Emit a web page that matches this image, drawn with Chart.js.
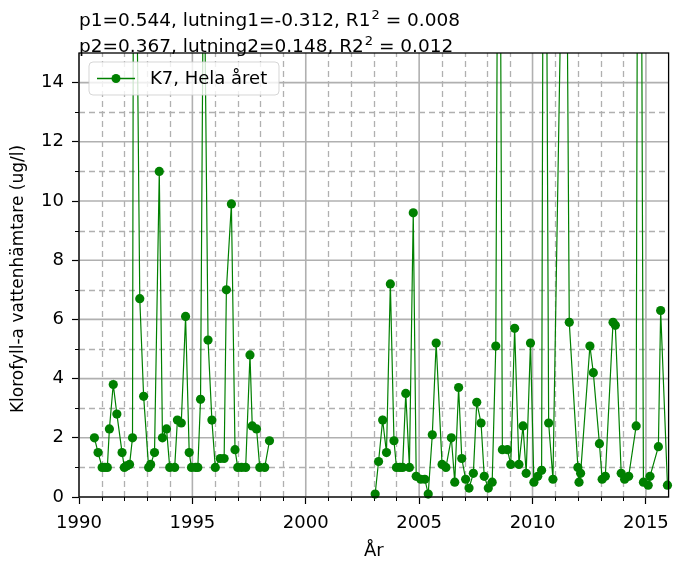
<!DOCTYPE html>
<html>
<head>
<meta charset="utf-8">
<script src="https://cdn.jsdelivr.net/npm/chart.js@4/dist/chart.umd.min.js"></script>
<style>
  html, body { margin: 0; padding: 0; background: #ffffff; }
  #c { display: block; }
</style>
</head>
<body>
<canvas id="c" width="678" height="562"></canvas>
<script>
// Klorofyll-a, station K7, hela året – two sampling periods
const period1Dates = [
  1990.68, 1990.84, 1991.02, 1991.14, 1991.25, 1991.34, 1991.51, 1991.67, 1991.90,
  1992.00, 1992.10, 1992.23, 1992.36, 1992.42, 1992.68, 1992.85,
  1993.07, 1993.16, 1993.33, 1993.54, 1993.68, 1993.86,
  1994.00, 1994.22, 1994.34, 1994.51, 1994.70, 1994.86, 1994.96,
  1995.14, 1995.24, 1995.36, 1995.50, 1995.69, 1995.86,
  1996.01, 1996.23, 1996.40, 1996.50, 1996.72, 1996.88,
  1997.00, 1997.17, 1997.35, 1997.54, 1997.64, 1997.83, 1997.97,
  1998.19, 1998.40
];
const period1Values = [
  2.0, 1.5, 1.0, 1.0, 1.0, 2.3, 3.8, 2.8, 1.5,
  1.0, 1.05, 1.1, 2.0, 28.0, 6.7, 3.4,
  1.0, 1.1, 1.5, 11.0, 2.0, 2.3,
  1.0, 1.0, 2.6, 2.5, 6.1, 1.5, 1.0,
  1.0, 1.0, 3.3, 20.0, 5.3, 2.6,
  1.0, 1.3, 1.3, 7.0, 9.9, 1.6,
  1.0, 1.0, 1.0, 4.8, 2.4, 2.3, 1.0,
  1.0, 1.9
];

const period2Dates = [
  2003.06, 2003.21, 2003.39, 2003.56, 2003.73, 2003.89,
  2004.00, 2004.15, 2004.27, 2004.41, 2004.57, 2004.74, 2004.87,
  2005.07, 2005.25, 2005.40, 2005.58, 2005.75,
  2006.01, 2006.18, 2006.42, 2006.57, 2006.74, 2006.88,
  2007.05, 2007.20, 2007.39, 2007.54, 2007.73, 2007.87,
  2008.05, 2008.22, 2008.38, 2008.52, 2008.67, 2008.89,
  2009.04, 2009.21, 2009.40, 2009.58, 2009.72, 2009.91,
  2010.06, 2010.23, 2010.40, 2010.52, 2010.71, 2010.90,
  2011.45, 2011.62,
  2012.00, 2012.05, 2012.12, 2012.53, 2012.68, 2012.95,
  2013.07, 2013.21, 2013.55, 2013.65, 2013.91,
  2014.06, 2014.24, 2014.57, 2014.70, 2014.89,
  2015.10, 2015.18, 2015.55, 2015.65, 2015.95
];
const period2Values = [
  0.1, 1.2, 2.6, 1.5, 7.2, 1.9,
  1.0, 1.0, 1.0, 3.5, 1.0, 9.6, 0.7,
  0.6, 0.6, 0.1, 2.1, 5.2,
  1.1, 1.0, 2.0, 0.5, 3.7, 1.3,
  0.6, 0.3, 0.8, 3.2, 2.5, 0.7,
  0.3, 0.5, 5.1, 30.0, 1.6, 1.6,
  1.1, 5.7, 1.1, 2.4, 0.8, 5.2,
  0.5, 0.7, 0.9, 35.0, 2.5, 0.6,
  26.0, 5.9,
  1.0, 0.5, 0.8, 5.1, 4.2, 1.8,
  0.6, 0.7, 5.9, 5.8, 0.8,
  0.6, 0.7, 2.4, 40.0, 0.5,
  0.4, 0.7, 1.7, 6.3, 0.4
];

const xMajorTicks = [1990, 1995, 2000, 2005, 2010, 2015];
const yMajorTicks = [0, 2, 4, 6, 8, 10, 12, 14];
const xRange = [1990, 2016];
const yRange = [0, 15];

const seriesLabel = 'K7, Hela året';
const xTitle = 'År';
const yTitle = 'Klorofyll-a vattenhämtare (ug/l)';
// each stats line: [text before superscript, superscript, text after]
const statsLines = [
  ['p1=0.544, lutning1=-0.312, R1', '2', ' = 0.008'],
  ['p2=0.367, lutning2=0.148, R2', '2', ' = 0.012']
];

const GREEN = '#008000';
const FONT = '"DejaVu Sans", sans-serif';
const FS = 18;        // ticks, legend, x title
const FS_TITLE = 18.5;
const FS_YTITLE = 17;

// join both periods, with a break between them so the line is not drawn across the gap
const points = [];
period1Dates.forEach((d, i) => points.push({ x: d, y: period1Values[i] }));
points.push({ x: (period1Dates[period1Dates.length - 1] + period2Dates[0]) / 2, y: null });
period2Dates.forEach((d, i) => points.push({ x: d, y: period2Values[i] }));

const decorations = {
  id: 'decorations',
  beforeDatasetsDraw(chart) {
    const { ctx, chartArea: a, scales: { x, y } } = chart;
    ctx.save();
    // minor grid (dashed) every year / every unit
    ctx.strokeStyle = '#b0b0b0';
    ctx.lineWidth = 1.3;
    ctx.setLineDash([6, 4]);
    for (let v = xRange[0] + 1; v < xRange[1]; v++) {
      if (xMajorTicks.includes(v)) continue;
      const px = Math.round(x.getPixelForValue(v)) + 0.5;
      ctx.beginPath(); ctx.moveTo(px, a.bottom); ctx.lineTo(px, a.top); ctx.stroke();
    }
    for (let v = yRange[0] + 1; v < yRange[1]; v++) {
      if (yMajorTicks.includes(v)) continue;
      const py = Math.round(y.getPixelForValue(v)) + 0.5;
      ctx.beginPath(); ctx.moveTo(a.left, py); ctx.lineTo(a.right, py); ctx.stroke();
    }
    // major grid (solid)
    ctx.setLineDash([]);
    ctx.lineWidth = 1.6;
    xMajorTicks.forEach(v => {
      const px = x.getPixelForValue(v);
      ctx.beginPath(); ctx.moveTo(px, a.bottom); ctx.lineTo(px, a.top); ctx.stroke();
    });
    yMajorTicks.forEach(v => {
      const py = y.getPixelForValue(v);
      ctx.beginPath(); ctx.moveTo(a.left, py); ctx.lineTo(a.right, py); ctx.stroke();
    });
    // minor tick marks outside the axes
    ctx.strokeStyle = '#000';
    ctx.lineWidth = 1;
    for (let v = xRange[0] + 1; v < xRange[1]; v++) {
      if (xMajorTicks.includes(v)) continue;
      const px = Math.round(x.getPixelForValue(v)) + 0.5;
      ctx.beginPath(); ctx.moveTo(px, a.bottom); ctx.lineTo(px, a.bottom + 4); ctx.stroke();
    }
    for (let v = yRange[0] + 1; v < yRange[1]; v++) {
      if (yMajorTicks.includes(v)) continue;
      const py = Math.round(y.getPixelForValue(v)) + 0.5;
      ctx.beginPath(); ctx.moveTo(a.left, py); ctx.lineTo(a.left - 4, py); ctx.stroke();
    }
    ctx.restore();
  },
  afterDatasetsDraw(chart) {
    const { ctx, chartArea: a } = chart;
    ctx.save();
    // axes frame
    ctx.strokeStyle = '#000';
    ctx.lineWidth = 1.3;
    ctx.strokeRect(a.left, a.top, a.right - a.left, a.bottom - a.top);

    // legend
    const lx = a.left + 10, ly = a.top + 9, lw = 190, lh = 33, r = 4;
    ctx.beginPath();
    ctx.moveTo(lx + r, ly);
    ctx.arcTo(lx + lw, ly, lx + lw, ly + lh, r);
    ctx.arcTo(lx + lw, ly + lh, lx, ly + lh, r);
    ctx.arcTo(lx, ly + lh, lx, ly, r);
    ctx.arcTo(lx, ly, lx + lw, ly, r);
    ctx.closePath();
    ctx.fillStyle = 'rgba(255,255,255,0.8)';
    ctx.fill();
    ctx.strokeStyle = 'rgba(204,204,204,0.8)';
    ctx.lineWidth = 1;
    ctx.stroke();
    const cy = ly + lh / 2;
    ctx.strokeStyle = GREEN;
    ctx.lineWidth = 1.3;
    ctx.beginPath(); ctx.moveTo(lx + 8, cy); ctx.lineTo(lx + 46, cy); ctx.stroke();
    ctx.fillStyle = GREEN;
    ctx.beginPath(); ctx.arc(lx + 27, cy, 4.5, 0, Math.PI * 2); ctx.fill();
    ctx.fillStyle = '#000';
    ctx.font = `${FS}px ${FONT}`;
    ctx.textAlign = 'left';
    ctx.textBaseline = 'middle';
    ctx.fillText(seriesLabel, lx + 61, cy + 1);
    ctx.restore();
  },
  afterDraw(chart) {
    const { ctx, chartArea: a } = chart;
    ctx.save();
    ctx.fillStyle = '#000';
    ctx.textBaseline = 'alphabetic';
    ctx.textAlign = 'left';
    // regression statistics above the axes
    statsLines.forEach((parts, i) => {
      const base = 26 + i * 26;
      let px = a.left;
      ctx.font = `${FS_TITLE}px ${FONT}`;
      ctx.fillText(parts[0], px, base);
      px += ctx.measureText(parts[0]).width + 1;
      ctx.font = `${Math.round(FS_TITLE * 0.7)}px ${FONT}`;
      ctx.fillText(parts[1], px, base - 7);
      px += ctx.measureText(parts[1]).width;
      ctx.font = `${FS_TITLE}px ${FONT}`;
      ctx.fillText(parts[2], px, base);
    });
    // axis titles
    ctx.font = `${FS}px ${FONT}`;
    ctx.textAlign = 'center';
    ctx.textBaseline = 'middle';
    ctx.fillText(xTitle, (a.left + a.right) / 2, 551);
    ctx.font = `${FS_YTITLE}px ${FONT}`;
    ctx.translate(19, 279);
    ctx.rotate(-Math.PI / 2);
    ctx.fillText(yTitle, 0, 0);
    ctx.restore();
  }
};

new Chart(document.getElementById('c'), {
  type: 'line',
  data: {
    datasets: [{
      label: seriesLabel,
      data: points,
      borderColor: GREEN,
      backgroundColor: GREEN,
      borderWidth: 1.2,
      pointRadius: 4.6,
      pointBorderWidth: 0,
      pointBackgroundColor: GREEN,
      pointHoverRadius: 4.6,
      spanGaps: false,
      tension: 0,
      clip: { left: 6, right: 6, top: 0, bottom: 6 }
    }]
  },
  options: {
    responsive: false,
    animation: false,
    events: [],
    devicePixelRatio: 1,
    layout: { padding: { top: 53, right: 3, left: 0, bottom: 0 } },
    plugins: {
      legend: { display: false },
      title: { display: false },
      tooltip: { enabled: false }
    },
    scales: {
      x: {
        type: 'linear',
        min: xRange[0],
        max: xRange[1],
        afterBuildTicks: s => { s.ticks = xMajorTicks.map(v => ({ value: v })); },
        afterFit: s => { s.height = 65; },
        grid: { drawOnChartArea: false, drawTicks: true, tickLength: 7, tickColor: '#000', tickWidth: 1.2 },
        border: { display: false },
        ticks: {
          callback: v => String(v),
          color: '#000',
          font: { family: FONT, size: FS },
          padding: 9,
          maxRotation: 0,
          autoSkip: false
        }
      },
      y: {
        type: 'linear',
        min: yRange[0],
        max: yRange[1],
        afterBuildTicks: s => { s.ticks = yMajorTicks.map(v => ({ value: v })); },
        afterFit: s => { s.width = 79; },
        grid: { drawOnChartArea: false, drawTicks: true, tickLength: 7, tickColor: '#000', tickWidth: 1.2 },
        border: { display: false },
        ticks: {
          callback: v => String(v),
          color: '#000',
          font: { family: FONT, size: FS },
          padding: 8,
          autoSkip: false
        }
      }
    }
  },
  plugins: [decorations]
});
</script>
</body>
</html>
